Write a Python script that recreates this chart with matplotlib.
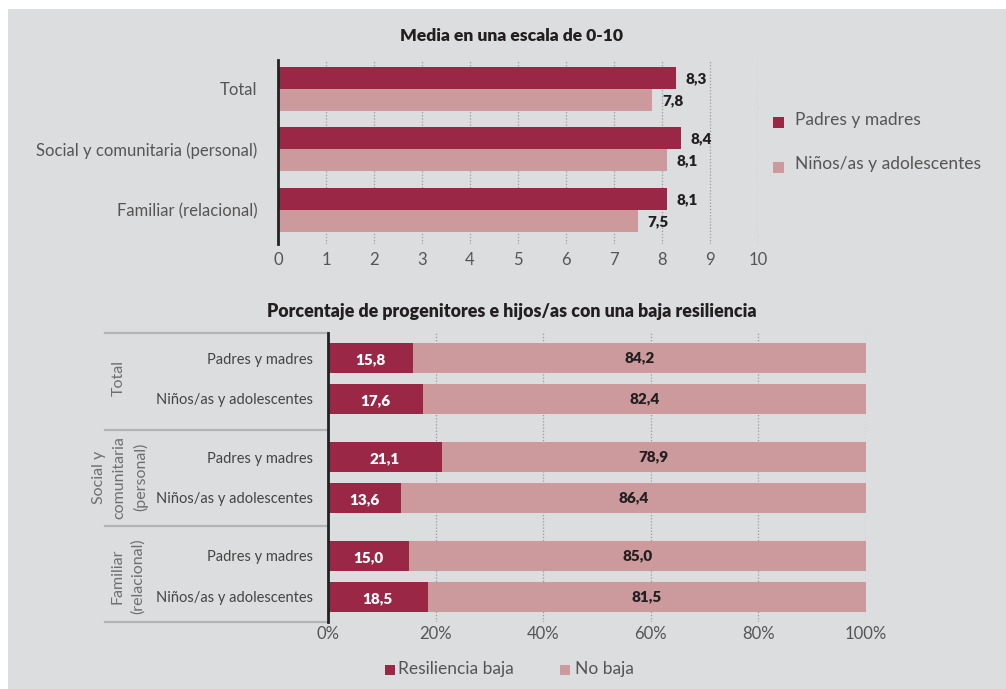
import matplotlib
matplotlib.use("Agg")
import matplotlib.pyplot as plt
from matplotlib.patches import Rectangle
from matplotlib.lines import Line2D
from matplotlib.transforms import blended_transform_factory

plt.rcParams['font.family'] = ['Lato', 'DejaVu Sans']

# ---- data ----
mean_categories = ["Total", "Social y comunitaria (personal)", "Familiar (relacional)"]
mean_parents = [8.3, 8.4, 8.1]
mean_children = [7.8, 8.1, 7.5]
mean_series = ["Padres y madres", "Niños/as y adolescentes"]
mean_ticks = [0, 1, 2, 3, 4, 5, 6, 7, 8, 9, 10]

groups = ["Total", "Social y\ncomunitaria\n(personal)", "Familiar\n(relacional)"]
rows = ["Padres y madres", "Niños/as y adolescentes"]
low_resilience = [[15.8, 17.6], [21.1, 13.6], [15.0, 18.5]]
not_low = [[84.2, 82.4], [78.9, 86.4], [85.0, 81.5]]
pct_ticks = [0, 20, 40, 60, 80, 100]
pct_series = ["Resiliencia baja", "No baja"]

DARK = "#9b2746"
LIGHT = "#cc9a9d"
BG = "#dcdddf"
TXT = "#555555"
TXT2 = "#444444"
TITLE = "#231f20"

W, H = 1006, 689
fig = plt.figure(figsize=(W / 100, H / 100), dpi=100, facecolor="white")


def fx(px):
    return px / W


def fy(py):
    return 1 - py / H


def fmt(v):
    return f"{v:.1f}".replace(".", ",")


fig.patches.append(Rectangle((fx(8), 0), 1 - fx(8), fy(9), transform=fig.transFigure,
                             facecolor=BG, edgecolor="none", zorder=-10))

# ---- top chart: mean scores ----
ax1 = fig.add_axes([fx(278), fy(244), fx(758) - fx(278), fy(60) - fy(244)])
ax1.set_facecolor("none")
step = 60.5
bar_h = 22 / step
ypos = list(range(len(mean_categories)))
ax1.set_xlim(0, 10)
ax1.set_ylim(2 + (244 - 209.5) / step, -(88.5 - 60) / step)
for t in mean_ticks[1:]:
    ax1.axvline(t, color="#9a9a9a", lw=0.9, ls=(0, (1, 1.5)), zorder=0)
ax1.barh([y - bar_h / 2 for y in ypos], mean_parents, height=bar_h, color=DARK, zorder=2)
ax1.barh([y + bar_h / 2 for y in ypos], mean_children, height=bar_h, color=LIGHT, zorder=2)
for y, v in zip(ypos, mean_parents):
    ax1.text(v + 0.2, y - bar_h / 2 + 0.02, fmt(v), ha="left", va="center",
             fontsize=11, fontweight="heavy", color=TITLE)
for y, v in zip(ypos, mean_children):
    ax1.text(v + 0.2, y + bar_h / 2 + 0.02, fmt(v), ha="left", va="center",
             fontsize=11, fontweight="heavy", color=TITLE)
ax1.set_yticks(ypos)
ax1.set_yticklabels(mean_categories, fontsize=12, color=TXT)
ax1.set_xticks(mean_ticks)
ax1.set_xticklabels([str(t) for t in mean_ticks], fontsize=12, color=TXT)
ax1.tick_params(axis="both", length=0)
ax1.tick_params(axis="x", pad=6)
ax1.tick_params(axis="y", pad=15)
for s in ["top", "right", "bottom"]:
    ax1.spines[s].set_visible(False)
ax1.spines["left"].set_color("#222222")
ax1.spines["left"].set_linewidth(2)
fig.text(fx(511), fy(36), "Media en una escala de 0-10", ha="center", va="center",
         fontsize=12.6, fontweight="heavy", color=TITLE)

# legend of the top chart
for i, (name, col) in enumerate(zip(mean_series, [DARK, LIGHT])):
    cy = 122.5 + i * 44.5
    fig.patches.append(Rectangle((fx(773), fy(cy + 5.5)), fx(11), 11 / H,
                                 transform=fig.transFigure, facecolor=col, edgecolor="none"))
    fig.text(fx(795), fy(cy - 3), name, ha="left", va="center", fontsize=12.5, color=TXT)

# ---- bottom chart: low resilience percentages ----
ax2 = fig.add_axes([fx(328), fy(622), fx(866) - fx(328), fy(333) - fy(622)])
ax2.set_facecolor("none")
ax2.set_xlim(0, 100)
ax2.set_ylim(289, 0)
group_gap = 99
row_gap = 40.5
first = 25
for t in pct_ticks[1:]:
    ax2.axvline(t, color="#9a9a9a", lw=0.9, ls=(0, (1, 1.5)), zorder=0)

centers = []
labels = []
for g, gname in enumerate(groups):
    for r, rname in enumerate(rows):
        centers.append(first + g * group_gap + r * row_gap)
        labels.append(rname)
lows = [v for grp in low_resilience for v in grp]
highs = [v for grp in not_low for v in grp]
ax2.barh(centers, lows, height=30, color=DARK, zorder=2)
ax2.barh(centers, highs, left=lows, height=30, color=LIGHT, zorder=2)
for y, lo, hi in zip(centers, lows, highs):
    ax2.text(lo / 2, y + 2, fmt(lo), ha="center", va="center",
             fontsize=11, fontweight="heavy", color="white", zorder=3)
    ax2.text(lo + hi / 2, y, fmt(hi), ha="center", va="center",
             fontsize=11, fontweight="heavy", color=TITLE, zorder=3)
ax2.set_yticks(centers)
ax2.set_yticklabels(labels, fontsize=10.5, color=TXT2)
ax2.set_xticks(pct_ticks)
ax2.set_xticklabels([f"{t}%" for t in pct_ticks], fontsize=12, color=TXT)
ax2.tick_params(axis="both", length=0)
ax2.tick_params(axis="x", pad=3)
ax2.tick_params(axis="y", pad=10.5)
for s in ["top", "right", "bottom"]:
    ax2.spines[s].set_visible(False)
ax2.spines["left"].set_color("#222222")
ax2.spines["left"].set_linewidth(2)

# group separators and group names
tr = blended_transform_factory(ax2.transAxes, ax2.transData)
x_left = (105 - 328) / (866 - 328)
for ysep in [0, 97, 193, 289]:
    ax2.add_line(Line2D([x_left, 0], [ysep, ysep], transform=tr, color="#b4b4b6",
                        lw=1.6, clip_on=False))
group_x = [119, 120, 128]
for g, (gname, gxp) in enumerate(zip(groups, group_x)):
    yc = first + g * group_gap + row_gap / 2
    ax2.text((gxp - 328) / (866 - 328), yc, gname, transform=tr, rotation=90,
             ha="center", va="center", multialignment="center", fontsize=11.5,
             color="#6f6f6f", linespacing=1.55)

fig.text(fx(512), fy(312), "Porcentaje de progenitores e hijos/as con una baja resiliencia",
         ha="center", va="center", fontsize=12.8, fontweight="heavy", color=TITLE)

# legend of the bottom chart
for name, col, sx, tx in zip(pct_series, [DARK, LIGHT], [385, 560], [398, 575]):
    fig.patches.append(Rectangle((fx(sx), fy(675)), fx(10), 10 / H,
                                 transform=fig.transFigure, facecolor=col, edgecolor="none"))
    fig.text(fx(tx), fy(669), name, ha="left", va="center", fontsize=12.5, color=TXT)

fig.savefig("out.png", dpi=100, facecolor=fig.get_facecolor())
